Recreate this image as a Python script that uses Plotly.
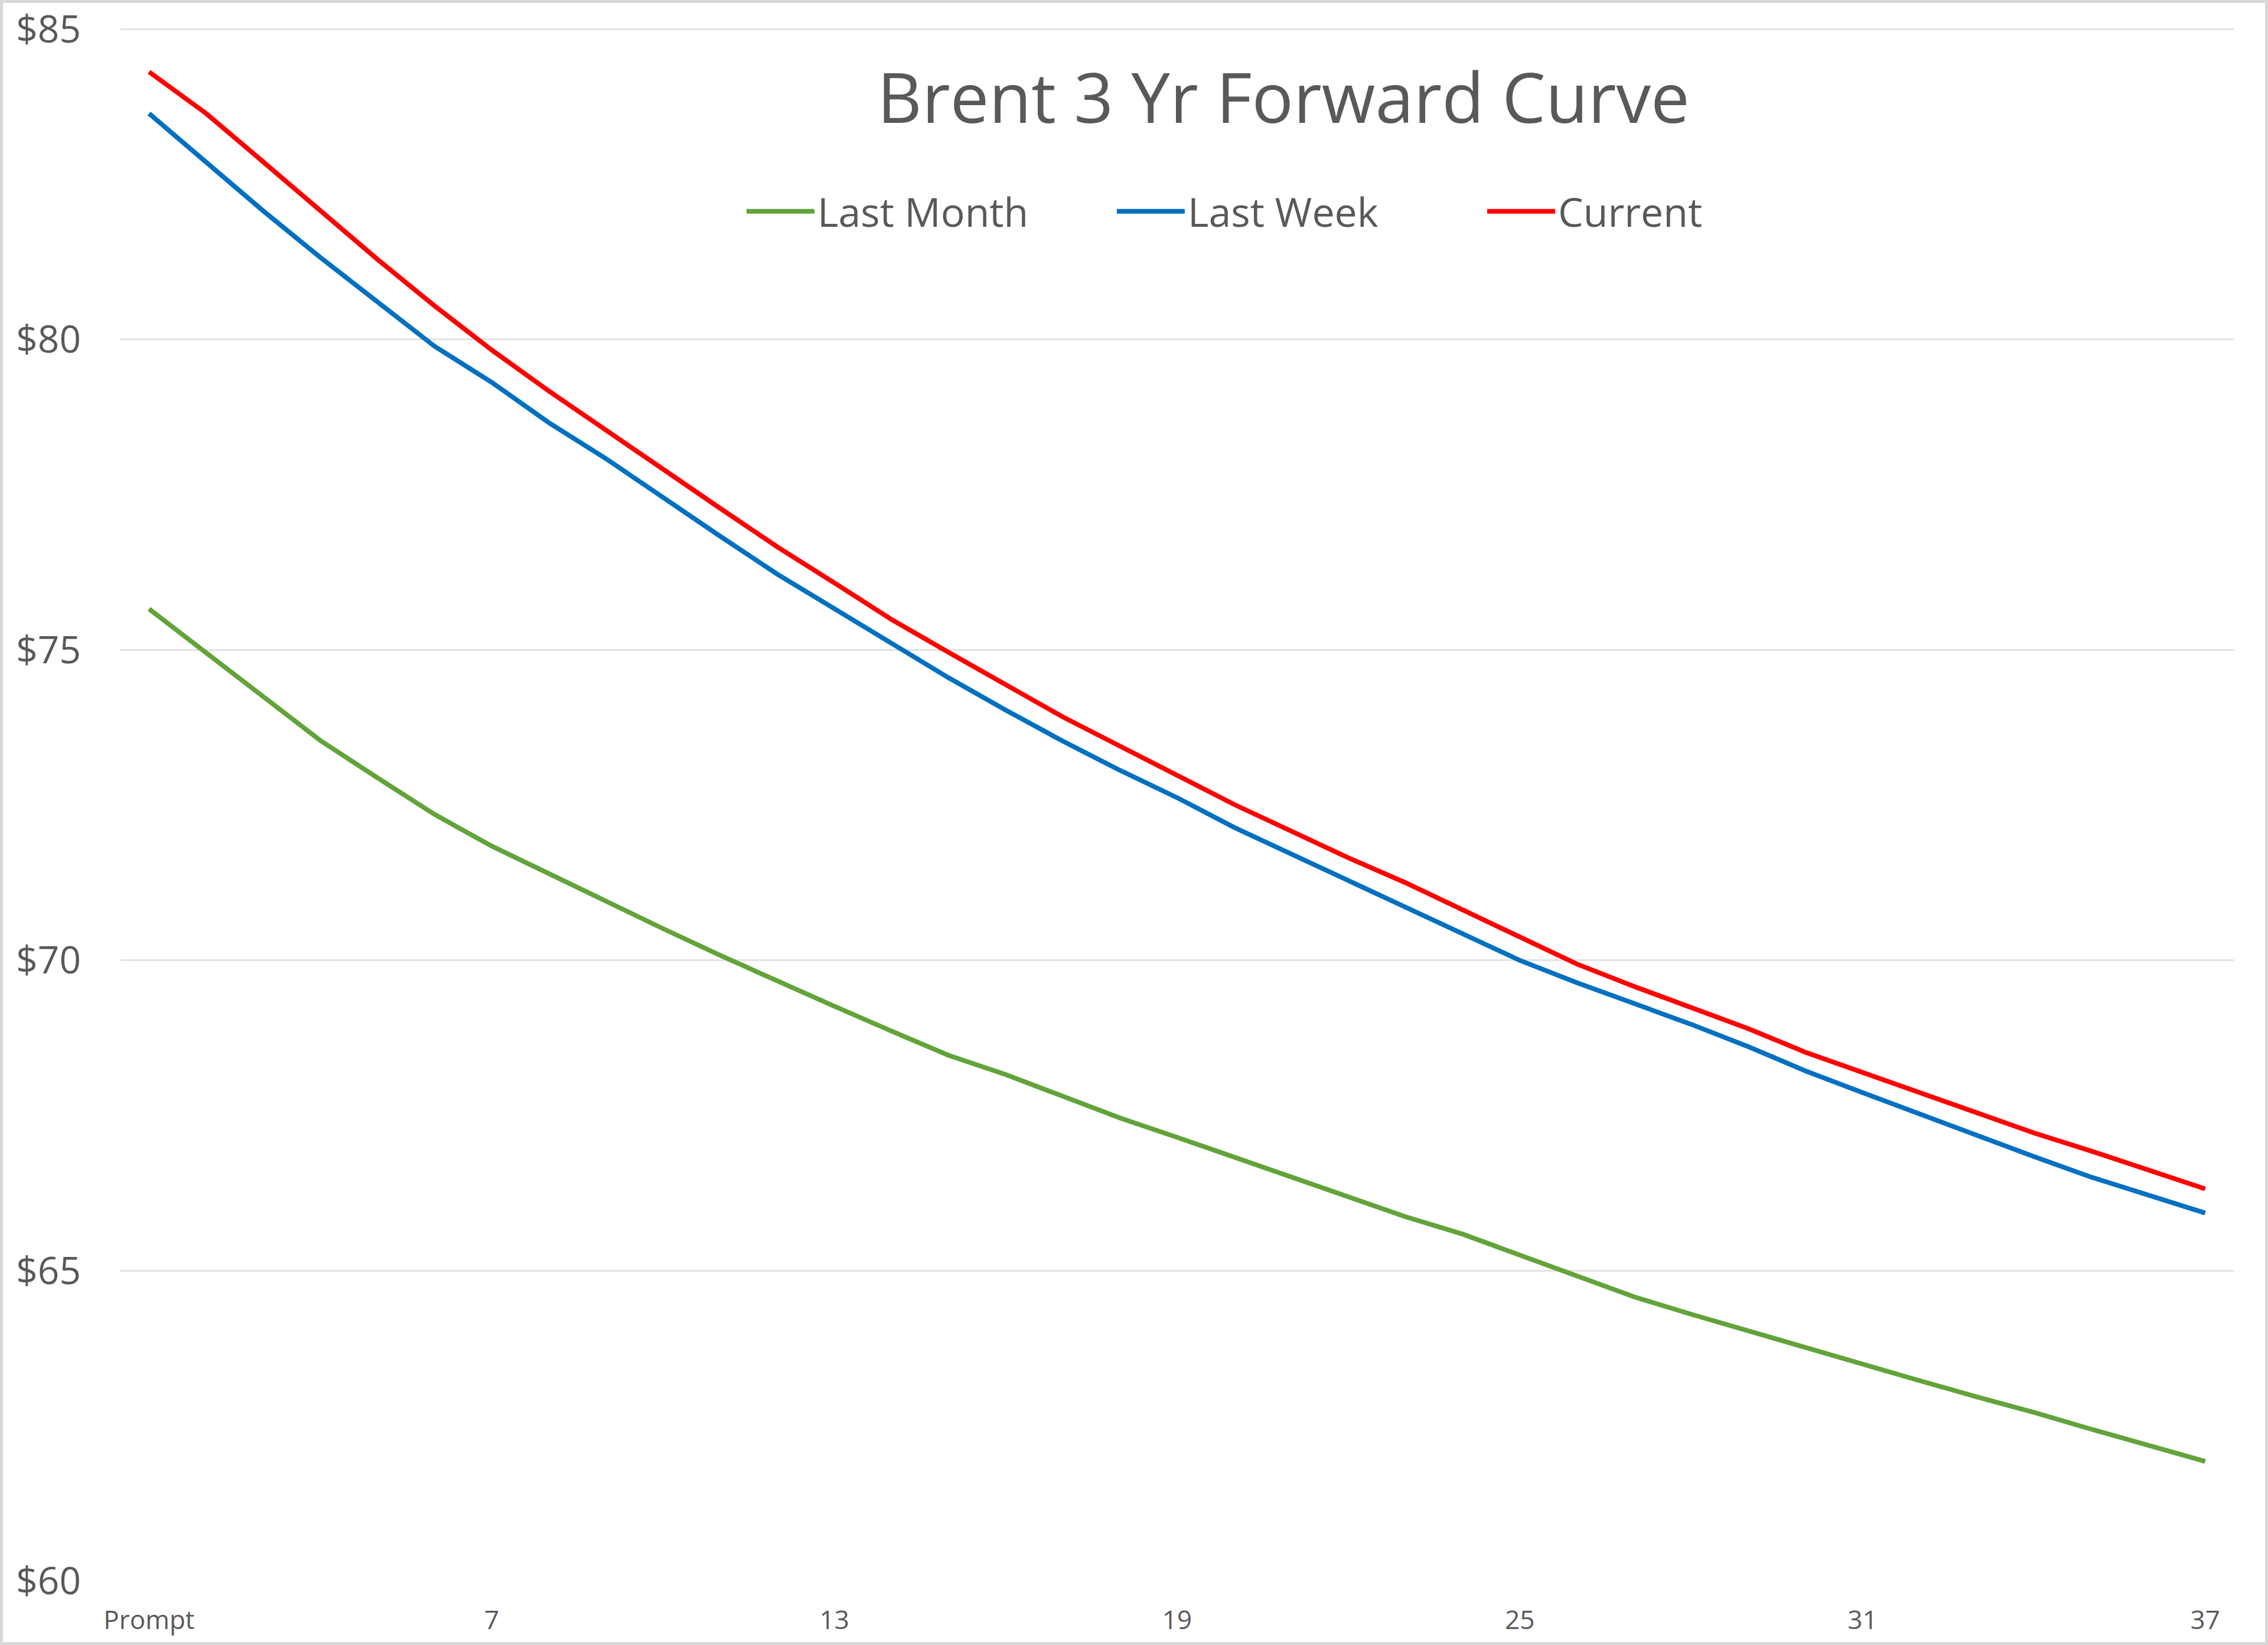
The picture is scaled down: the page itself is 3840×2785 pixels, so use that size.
import plotly.graph_objects as go

months = ["Prompt"] + [str(i) for i in range(2, 38)]

last_month = [75.66, 74.96, 74.24, 73.54, 72.94, 72.35, 71.84, 71.39, 70.94, 70.51,
              70.08, 69.66, 69.26, 68.86, 68.47, 68.16, 67.81, 67.46, 67.15, 66.83,
              66.51, 66.19, 65.87, 65.59, 65.25, 64.91, 64.58, 64.30, 64.03, 63.76,
              63.49, 63.23, 62.97, 62.72, 62.45, 62.19, 61.93]

last_week = [83.64, 82.85, 82.07, 81.32, 80.60, 79.89, 79.31, 78.66, 78.08, 77.45,
             76.83, 76.22, 75.66, 75.10, 74.55, 74.03, 73.53, 73.06, 72.62, 72.14,
             71.71, 71.27, 70.85, 70.43, 70.00, 69.64, 69.31, 68.97, 68.61, 68.22,
             67.87, 67.52, 67.18, 66.84, 66.51, 66.22, 65.93]

current = [84.31, 83.64, 82.86, 82.07, 81.29, 80.54, 79.83, 79.17, 78.55, 77.91,
           77.28, 76.66, 76.08, 75.49, 74.96, 74.44, 73.92, 73.45, 72.98, 72.51,
           72.08, 71.65, 71.25, 70.82, 70.37, 69.94, 69.58, 69.25, 68.90, 68.52,
           68.19, 67.87, 67.54, 67.22, 66.93, 66.62, 66.32]

x_tick_vals = ["Prompt", "7", "13", "19", "25", "31", "37"]
y_tick_vals = [60, 65, 70, 75, 80, 85]
y_tick_text = ["$60", "$65", "$70", "$75", "$80", "$85"]

series = [
    ("Last Month", last_month, "#62A33A"),
    ("Last Week", last_week, "#0070C0"),
    ("Current", current, "#FF0000"),
]

FONT = "Open Sans, Noto Sans, DejaVu Sans, sans-serif"
TXT = "#595959"

fig = go.Figure()
for name, vals, col in series:
    fig.add_trace(go.Scatter(x=months, y=vals, name=name, mode="lines",
                             line=dict(color=col, width=8)))

L, R, T, B = 204, 58, 46, 108
W, H = 3840, 2785
pw, ph = W - L - R, H - T - B
Y_MIN, Y_MAX = 60, 85.03

fig.update_layout(
    width=W, height=H, autosize=False,
    margin=dict(l=L, r=R, t=T, b=B, pad=0, autoexpand=False),
    paper_bgcolor="white", plot_bgcolor="white",
    font=dict(family=FONT, color=TXT),
    title=dict(text="Brent 3 Yr Forward Curve", x=2173 / W, xref="container",
               xanchor="center", y=1 - 167 / H, yref="container", yanchor="middle",
               font=dict(size=117, color=TXT, family=FONT)),
    showlegend=True,
    legend=dict(orientation="h", x=(1259 - L) / pw, xanchor="left",
                y=1 - (358 - T) / ph, yanchor="middle",
                font=dict(size=68, color=TXT, family=FONT),
                bgcolor="rgba(0,0,0,0)", itemwidth=115, entrywidth=497),
    xaxis=dict(type="category", range=[-0.5, 36.5], tickmode="array",
               tickvals=x_tick_vals, ticktext=x_tick_vals, automargin=False,
               showgrid=False, zeroline=False, showline=False, ticks="",
               tickfont=dict(size=44, color=TXT, family=FONT),
               ticklabelstandoff=36),
    yaxis=dict(range=[Y_MIN, Y_MAX], tickmode="array", tickvals=y_tick_vals,
               ticktext=y_tick_text, showgrid=True, gridcolor="#E2E2E2",
               gridwidth=3, zeroline=False, showline=False, ticks="",
               automargin=False,
               tickfont=dict(size=64, color=TXT, family=FONT),
               ticklabelstandoff=66, ticklabeloverflow="allow"),
    shapes=[dict(type="rect", xref="paper", yref="paper",
                 x0=(2.5 - L) / pw, x1=(W - 2.5 - L) / pw,
                 y0=(H - B - (H - 2.5)) / ph, y1=1 + (T - 2.5) / ph,
                 line=dict(color="#D9D9D9", width=5), fillcolor="rgba(0,0,0,0)",
                 layer="below")],
)

fig.write_html("out.html")
